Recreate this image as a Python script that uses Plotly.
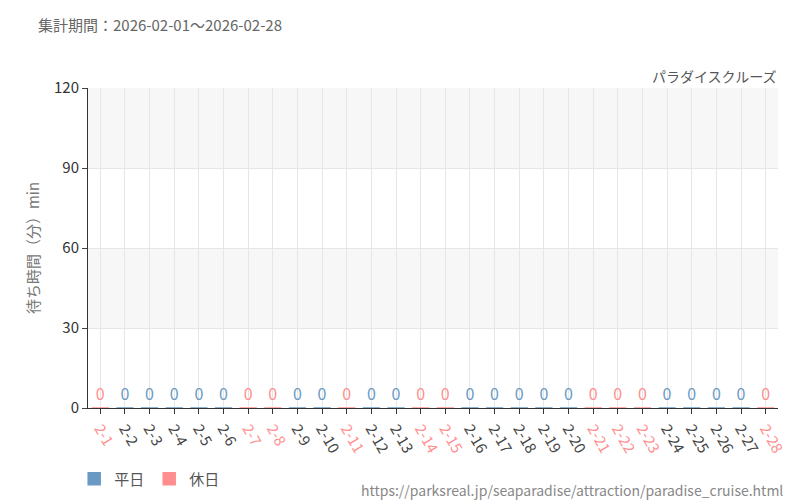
import plotly.graph_objects as go

days = [f"2-{d}" for d in range(1, 29)]
holidays = [1, 7, 8, 11, 14, 15, 21, 22, 23, 28]
waits = [0] * 28
is_hol = [d in holidays for d in range(1, 29)]

BLUE = "#6a9ac4"
PINK = "#ff8f8f"

fig = go.Figure()
for name, col, flag in [("平日", BLUE, False), ("休日", PINK, True)]:
    xs = [d for d, h in zip(days, is_hol) if h == flag]
    ys = [w for w, h in zip(waits, is_hol) if h == flag]
    fig.add_bar(x=xs, y=ys, name=name, marker=dict(color=col, line=dict(color=col, width=1.5)),
                text=[str(v) for v in ys], textposition="outside", cliponaxis=False,
                textfont=dict(color=col, size=16), width=0.7)

ticktext = [f"<span style='color:{PINK if h else '#444'}'>{d}</span>" for d, h in zip(days, is_hol)]

for lo in (30, 90):
    fig.add_shape(type="rect", xref="paper", x0=0, x1=1, y0=lo, y1=lo + 30,
                  fillcolor="#f7f7f7", line_width=0, layer="below")

fig.update_layout(
    width=800, height=500, plot_bgcolor="white", paper_bgcolor="white",
    font=dict(family="Noto Sans CJK JP", color="#555"),
    margin=dict(l=80, r=30, t=80, b=100), barmode="overlay", bargap=0.3,
    showlegend=True,
    legend=dict(orientation="h", x=-0.02, y=-0.17, xanchor="left", yanchor="top", font=dict(size=15)),
    xaxis=dict(categoryorder="array", categoryarray=days, tickvals=days, ticktext=ticktext,
               tickangle=60, tickfont=dict(size=15), showgrid=True, gridcolor="#e6e6e6",
               ticks="outside", ticklen=5, tickcolor="#333", showline=True, linecolor="#333",
               automargin=False),
    yaxis=dict(range=[0, 120], tickvals=[0, 30, 60, 90, 120], tickfont=dict(size=15, color="#333"),
               gridcolor="#e6e6e6", showline=True, linecolor="#333", ticks="outside", ticklen=5,
               automargin=False,
               title=dict(text="待ち時間（分）min", standoff=10, font=dict(size=15, color="#777"))),
    annotations=[
        dict(text="集計期間：2026-02-01～2026-02-28", xref="paper", yref="paper", x=-0.075, y=1.2,
             xanchor="left", yanchor="middle", showarrow=False, font=dict(size=15, color="#666")),
        dict(text="パラダイスクルーズ", xref="paper", yref="paper", x=1, y=1.0,
             xanchor="right", yanchor="bottom", showarrow=False, font=dict(size=14, color="#555")),
        dict(text="https://parksreal.jp/seaparadise/attraction/paradise_cruise.html", xref="paper",
             yref="paper", x=1.01, y=-0.256, xanchor="right", yanchor="middle", showarrow=False,
             font=dict(size=14, color="#888")),
    ],
)
fig.write_html("out.html")
